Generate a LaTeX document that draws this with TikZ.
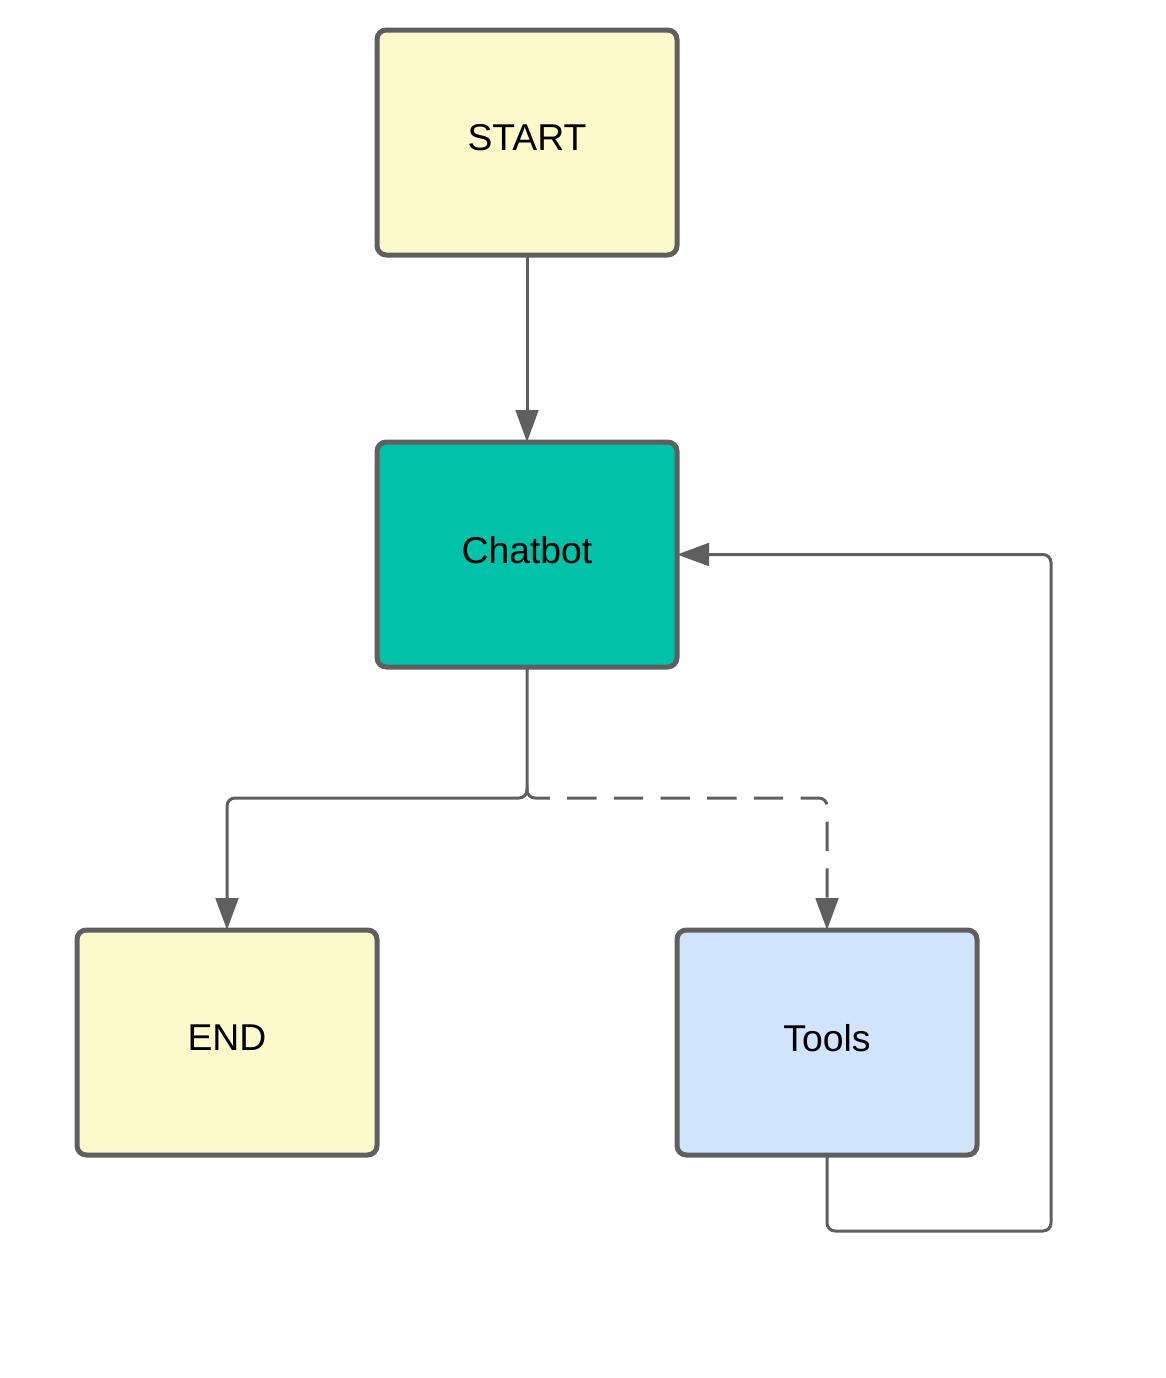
\documentclass[tikz,border=0pt]{standalone}
\usepackage{fontspec}
\setmainfont{Liberation Sans}
\usetikzlibrary{arrows.meta}
\definecolor{edgec}{HTML}{5F5F5F}
\definecolor{yellowf}{HTML}{FCFACA}
\definecolor{tealf}{HTML}{00C2A8}
\definecolor{bluef}{HTML}{D0E4FE}
\tikzset{
  box/.style={draw=edgec, line width=3.75pt, rounded corners=7pt, minimum width=225pt, minimum height=168.75pt, outer sep=0pt, inner sep=0pt, text depth=7.5pt, font=\fontsize{28}{33}\selectfont},
  conn/.style={draw=edgec, line width=2.25pt, rounded corners=6pt, -{Triangle[length=24pt,width=17pt]}},
  dashconn/.style={conn, dash pattern=on 22pt off 13pt}
}
\begin{document}
\begin{tikzpicture}[x=0.75pt,y=-0.75pt]
\useasboundingbox (0,0) rectangle (1166,1378);
\node[box, fill=yellowf] (start) at (527,142.5) {START};
\node[box, fill=tealf] (chat) at (527,554.5) {Chatbot};
\node[box, fill=yellowf] (end) at (227,1042.5) {END};
\node[box, fill=bluef] (tools) at (827,1042.5) {Tools};
\coordinate (j) at (527,798);
\coordinate (jpre) at (527,788);
\coordinate (loop) at (1051,1231);
\draw[conn] (start.south) -- (chat.north);
\draw[conn] (chat.south) -- (j) -- (end.north |- j) -- (end.north);
\draw[dashconn] (jpre) -- (j) -- (tools.north |- j) -- (tools.north);
\draw[conn] (tools.south) |- (loop) |- (chat.east);
\end{tikzpicture}
\end{document}
